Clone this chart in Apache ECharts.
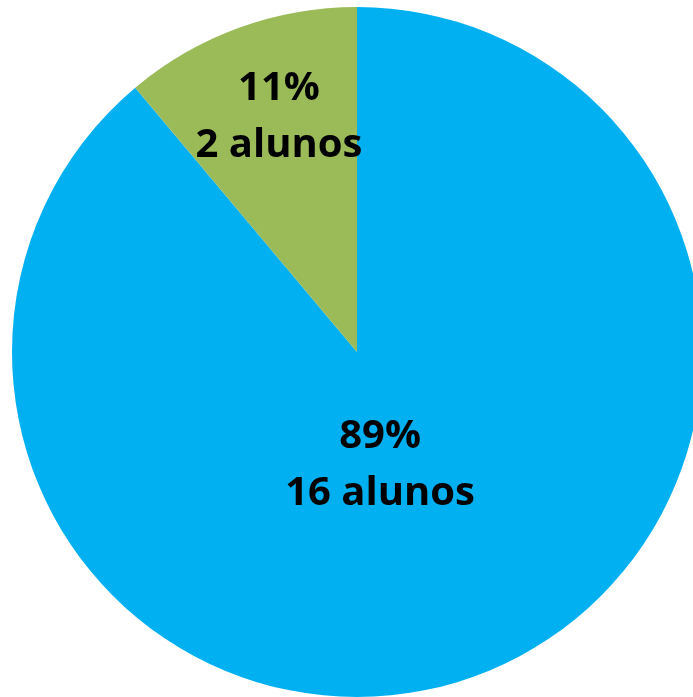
<!DOCTYPE html>
<html><head><meta charset="utf-8">
<script src="https://cdn.jsdelivr.net/npm/echarts@6/dist/echarts.min.js"></script>
<style>html,body{margin:0;padding:0;background:#fff}#c{width:693px;height:697px}</style>
</head><body><div id="c"></div>
<script>
const categories = ['Sim', 'Não'];
const values = [16, 2];
const percents = ['89%', '11%'];
const colors = ['#00B0F0', '#9BBB59'];
const offsets = [[-37, -52], [-18, -70]];

const chart = echarts.init(document.getElementById('c'));
chart.setOption({
  animation: false,
  series: [{
    type: 'pie',
    center: [357, 352],
    radius: 345,
    startAngle: 90,
    clockwise: true,
    labelLine: { show: false },
    itemStyle: { borderWidth: 0 },
    data: categories.map((c, i) => ({
      name: c,
      value: values[i],
      itemStyle: { color: colors[i] },
      label: {
        show: true,
        position: 'inside',
        offset: offsets[i],
        formatter: percents[i] + '\n' + values[i] + ' alunos',
        color: '#000',
        fontFamily: 'Open Sans',
        fontWeight: 'bold',
        fontSize: 40,
        lineHeight: 57,
        align: 'center'
      }
    }))
  }]
});
</script></body></html>
